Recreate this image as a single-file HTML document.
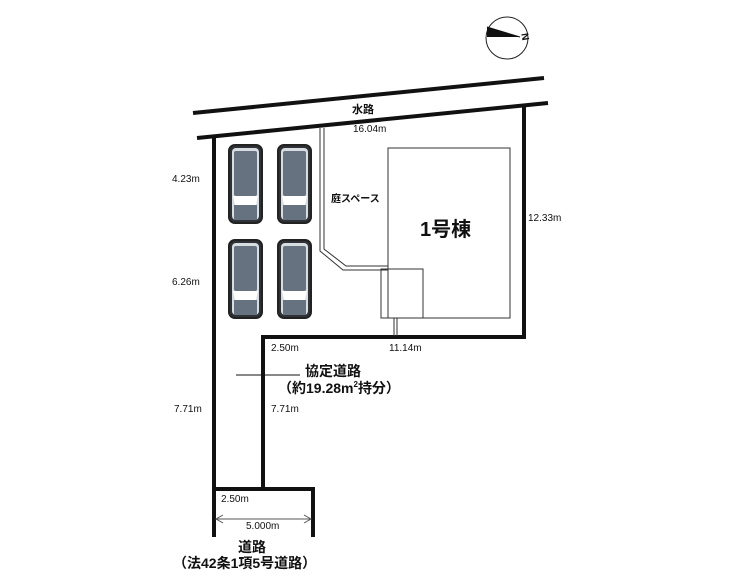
<!DOCTYPE html>
<html><head><meta charset="utf-8"><style>
html,body{margin:0;padding:0;background:#fff;}
svg{display:block;}
text{font-family:"Liberation Sans","Noto Sans CJK JP",sans-serif;fill:#111;}
</style></head><body>
<svg width="740" height="576" viewBox="0 0 740 576" xmlns="http://www.w3.org/2000/svg">
<defs>
<g id="car">
<rect x="0" y="0" width="33" height="78" rx="6" fill="#2f3338"/>
<rect x="3" y="3" width="27" height="72" rx="4" fill="#d8dde2"/>
<rect x="5" y="6" width="23" height="45" rx="2" fill="#66727f"/>
<path d="M4 51 L29 51 L27 60 L6 60 Z" fill="#fff"/>
<rect x="5" y="60" width="23" height="15" fill="#66727f"/>
<rect x="0" y="0" width="33" height="78" rx="6" fill="none" stroke="#222" stroke-width="2"/>
</g>
</defs>
<circle cx="507" cy="38" r="21" fill="#fff" stroke="#222" stroke-width="1"/>
<polygon points="487,27 487,37 520,37" fill="#111"/>
<line x1="487" y1="27" x2="520" y2="37" stroke="#111"/>
<text x="521" y="42" font-size="10" font-weight="bold" transform="rotate(80 526 38)">N</text>
<line x1="193" y1="113" x2="544" y2="78" stroke="#111" stroke-width="4"/>
<line x1="197" y1="138" x2="548" y2="103" stroke="#111" stroke-width="4"/>
<polyline points="214,137 214,537" fill="none" stroke="#111" stroke-width="4"/>
<polyline points="524,104 524,337 263,337 263,489 214,489" fill="none" stroke="#111" stroke-width="4"/>
<polyline points="214,489 313,489 313,537" fill="none" stroke="#111" stroke-width="4"/>
<use href="#car" x="229" y="145"/>
<use href="#car" x="278" y="145"/>
<use href="#car" x="229" y="240"/>
<use href="#car" x="278" y="240"/>
<path d="M320 128 L320 251 L343 270 L388 270" fill="none" stroke="#333" stroke-width="1"/>
<path d="M324 128 L324 249 L346 266 L388 266" fill="none" stroke="#333" stroke-width="1"/>
<rect x="388" y="148" width="122" height="170" fill="none" stroke="#333" stroke-width="1"/>
<rect x="381" y="269" width="42" height="49" fill="none" stroke="#333" stroke-width="1"/>
<line x1="394" y1="318" x2="394" y2="336" stroke="#333"/>
<line x1="397" y1="318" x2="397" y2="336" stroke="#333"/>
<text x="352" y="113" font-size="11" font-weight="bold">水路</text>
<text x="353" y="132" font-size="10">16.04m</text>
<text x="172" y="182" font-size="10">4.23m</text>
<text x="172" y="285" font-size="10">6.26m</text>
<text x="528" y="221" font-size="10">12.33m</text>
<text x="331" y="202" font-size="10" font-weight="bold">庭スペース</text>
<text x="420" y="236" font-size="20" font-weight="bold">1号棟</text>
<text x="271" y="351" font-size="10">2.50m</text>
<text x="389" y="351" font-size="10">11.14m</text>
<line x1="236" y1="375" x2="300" y2="375" stroke="#111" stroke-width="1"/>
<text x="305" y="376" font-size="14" font-weight="bold">協定道路</text>
<text x="278" y="393" font-size="14" font-weight="bold">（約19.28m<tspan font-size="8" dy="-6">2</tspan><tspan dy="6">持分）</tspan></text>
<text x="174" y="412" font-size="10">7.71m</text>
<text x="271" y="412" font-size="10">7.71m</text>
<text x="221" y="502" font-size="10">2.50m</text>
<line x1="216" y1="519" x2="311" y2="519" stroke="#555" stroke-width="1"/>
<polyline points="223,515 216,519 223,523" fill="none" stroke="#555"/>
<polyline points="304,515 311,519 304,523" fill="none" stroke="#555"/>
<text x="246" y="529" font-size="10">5.000m</text>
<text x="238" y="552" font-size="14" font-weight="bold">道路</text>
<text x="173" y="568" font-size="14" font-weight="bold">（法42条1項5号道路）</text>
</svg>
</body></html>
